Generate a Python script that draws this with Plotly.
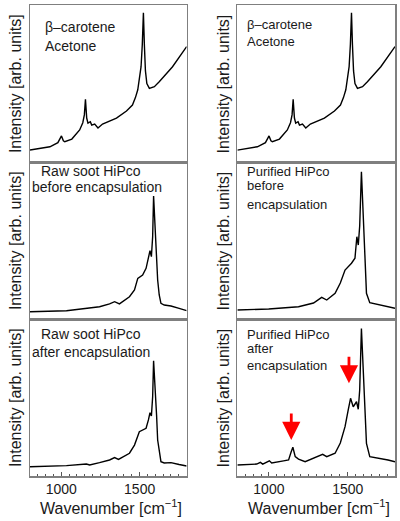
import plotly.graph_objects as go

# ---------------- data ----------------
# beta-carotene in acetone (same spectrum shown in both top panels)
wn_carotene = [800, 927, 978, 1001, 1013, 1022, 1067, 1117, 1137, 1147, 1154, 1158, 1162, 1170,
               1185, 1194, 1213, 1234, 1263, 1352, 1416, 1454, 1473, 1488, 1502, 1509, 1517,
               1524, 1530, 1537, 1546, 1562, 1594, 1625, 1710, 1795, 1800]
int_carotene = [7.6, 9.7, 12.3, 16.6, 13.5, 12.9, 14.6, 20.4, 25.0, 30.0, 39.9, 33.0, 28.0, 24.8,
                25.7, 23.5, 24.2, 21.7, 24.2, 28.0, 32.5, 36.3, 41.0, 46.0, 54.0, 60.7, 75.0,
                95.0, 75.0, 58.0, 50.0, 46.9, 48.0, 51.1, 60.7, 72.4, 73.5]

# raw soot HiPco before encapsulation
wn_raw_before = [800, 1033, 1244, 1308, 1340, 1371, 1435, 1467, 1488, 1519, 1541, 1556, 1566,
                 1575, 1583, 1589, 1595, 1600, 1608, 1615, 1625, 1636, 1657, 1700, 1752, 1800]
int_raw_before = [4.6, 5.3, 7.8, 9.6, 11.0, 9.6, 14.2, 18.5, 25.9, 28.0, 32.3, 39.7, 43.5,
                  39.7, 52.4, 78.3, 66.0, 58.8, 40.8, 24.8, 15.3, 10.0, 8.9, 8.3, 6.8, 5.3]

# raw soot HiPco after encapsulation
wn_raw_after = [800, 1033, 1160, 1181, 1244, 1308, 1340, 1365, 1435, 1467, 1498, 1541, 1556,
                1566, 1575, 1583, 1589, 1595, 1600, 1608, 1615, 1625, 1636, 1657, 1700, 1752, 1800]
int_raw_after = [5.9, 6.6, 7.6, 7.0, 8.5, 10.2, 11.7, 10.6, 14.5, 19.7, 28.2, 30.4, 35.7,
                 40.3, 38.2, 50.5, 73.4, 64.3, 56.9, 38.9, 22.9, 14.6, 9.1, 8.3, 8.5, 7.3, 6.4]

# purified HiPco before encapsulation
wn_pur_before = [800, 999, 1188, 1283, 1335, 1367, 1420, 1453, 1483, 1524, 1546, 1558, 1567,
                 1576, 1587, 1597, 1608, 1619, 1640, 1703, 1756, 1800]
int_pur_before = [5.7, 6.4, 7.8, 10.2, 13.8, 12.1, 16.4, 22.9, 31.2, 35.5, 38.7, 52.4, 47.1,
                  59.2, 93.8, 69.4, 37.6, 16.4, 10.4, 8.9, 8.0, 6.8]

# purified HiPco after encapsulation
wn_pur_after = [800, 873, 923, 946, 961, 1003, 1018, 1093, 1125, 1141, 1152, 1167, 1188, 1230,
                1283, 1341, 1367, 1420, 1453, 1483, 1503, 1518, 1535, 1556, 1567, 1576, 1587,
                1597, 1608, 1619, 1640, 1703, 1756, 1800]
int_pur_after = [7.0, 7.6, 7.6, 8.7, 7.6, 9.7, 8.3, 9.6, 10.2, 15.3, 18.3, 12.3, 10.8, 9.1,
                 11.3, 13.8, 12.3, 14.5, 21.0, 31.4, 42.0, 49.5, 44.1, 47.3, 42.5, 54.8, 94.0,
                 67.5, 42.0, 20.8, 12.3, 11.3, 10.2, 9.1]

# marked new (carotene) bands in the last panel
arrow_wn = [1142, 1508]
arrow_int = [22.9, 59.0]

x_range = [800, 1800]
x_ticks = [1000, 1500]
y_title = "Intensity [arb. units]"
x_title = "Wavenumber [cm<sup>\u22121</sup>]"

panels = [  # (row, col, x, y)
    (0, 0, wn_carotene, int_carotene),
    (0, 1, wn_carotene, int_carotene),
    (1, 0, wn_raw_before, int_raw_before),
    (1, 1, wn_pur_before, int_pur_before),
    (2, 0, wn_raw_after, int_raw_after),
    (2, 1, wn_pur_after, int_pur_after),
]

# ---------------- layout geometry ----------------
W, H = 400, 521
ML, MR, MT, MB = 30, 3, 5, 45
PW = W - ML - MR
PH = H - MT - MB
FONT = "Arial, Liberation Sans, sans-serif"
TXT = "#1a1a1a"


def fx(px):
    return (px - ML) / PW


def fy(py):
    return (H - MB - py) / PH


col_px = [(30, 187.5), (238.5, 397)]
row_px = [(5, 162), (162, 319), (319, 476)]

fig = go.Figure()
layout = dict(
    width=W, height=H,
    margin=dict(l=ML, r=MR, t=MT, b=MB, pad=0),
    paper_bgcolor="white", plot_bgcolor="white",
    showlegend=False,
    font=dict(family=FONT, color=TXT),
)

frame = dict(showline=True, mirror=True, linecolor="#7f7f7f", linewidth=1.5,
             showgrid=False, zeroline=False)

for r, c, xs, ys in panels:
    i = r * 2 + c + 1
    xa = "x" if i == 1 else f"x{i}"
    ya = "y" if i == 1 else f"y{i}"
    fig.add_trace(go.Scatter(x=xs, y=ys, mode="lines",
                             line=dict(color="black", width=1.4),
                             xaxis=xa, yaxis=ya, hoverinfo="skip"))
    xkey = "xaxis" if i == 1 else f"xaxis{i}"
    ykey = "yaxis" if i == 1 else f"yaxis{i}"
    xd = dict(frame, domain=[fx(col_px[c][0]), fx(col_px[c][1])], range=x_range,
              anchor=ya)
    if r == 2:
        xd.update(tickmode="array", tickvals=x_ticks, ticks="inside", ticklen=4,
                  tickwidth=1, tickcolor="#555", showticklabels=True,
                  tickfont=dict(size=14, family=FONT, color=TXT),
                  minor=dict(ticks="inside", ticklen=2.5, tickwidth=1, tickcolor="#555",
                             tickmode="linear", tick0=800, dtick=50, showgrid=False))
    else:
        xd.update(showticklabels=False, ticks="")
    layout[xkey] = xd
    layout[ykey] = dict(frame, domain=[fy(row_px[r][1]), fy(row_px[r][0])],
                        range=[0, 100], showticklabels=False, ticks="", anchor=xa)

ann = []
# y-axis titles
for c, px in enumerate([15.5, 225]):
    for r in range(3):
        ann.append(dict(text=y_title, xref="paper", yref="paper",
                        x=fx(px), y=fy((row_px[r][0] + row_px[r][1]) / 2),
                        xanchor="center", yanchor="middle", textangle=-90,
                        showarrow=False, borderpad=0, borderwidth=0,
                        font=dict(size=16, family=FONT, color=TXT)))
# x-axis titles
for c in range(2):
    cx = (col_px[c][0] + col_px[c][1]) / 2 + 3
    ann.append(dict(text=x_title, xref="paper", yref="paper", x=fx(cx), y=fy(507),
                    xanchor="center", yanchor="middle", showarrow=False,
                    borderpad=0, borderwidth=0,
                    font=dict(size=16, family=FONT, color=TXT)))

# panel labels: (text, left px, centre-y px, font size)
labels = [
    ("\u03b2\u2013carotene", 45, 27, 14), ("Acetone", 45, 45.7, 14),
    ("Raw soot HiPco", 41.5, 171, 14), ("before encapsulation", 32.5, 187, 14),
    ("Raw soot HiPco", 41.5, 334, 14), ("after encapsulation", 32.5, 351.7, 14),
    ("\u03b2\u2013carotene", 248, 25, 13), ("Acetone", 248, 41.7, 13),
    ("Purified HiPco", 248, 171.5, 13), ("before", 248, 185.5, 13), ("encapsulation", 248, 204, 13),
    ("Purified HiPco", 248, 334, 13), ("after", 248, 348, 13), ("encapsulation", 248, 365, 13),
]
for t, px, py, fs in labels:
    ann.append(dict(text=t, xref="paper", yref="paper", x=fx(px), y=fy(py),
                    xanchor="left", yanchor="middle", showarrow=False,
                    borderpad=0, borderwidth=0,
                    font=dict(size=fs, family=FONT, color=TXT)))

# red arrows in the last panel
for xv, yv in zip(arrow_wn, arrow_int):
    ann.append(dict(text="", x=xv, y=yv, xref="x6", yref="y6", showarrow=True,
                    ax=0, ay=-28, arrowhead=2, arrowsize=1.3, arrowwidth=2.8,
                    arrowcolor="#ff0000", standoff=0))

layout["annotations"] = ann
fig.update_layout(**layout)
fig.write_html("out.html",
               config={"displayModeBar": False, "staticPlot": True},
               post_script="document.body.style.margin='0';document.body.style.padding='0';")
